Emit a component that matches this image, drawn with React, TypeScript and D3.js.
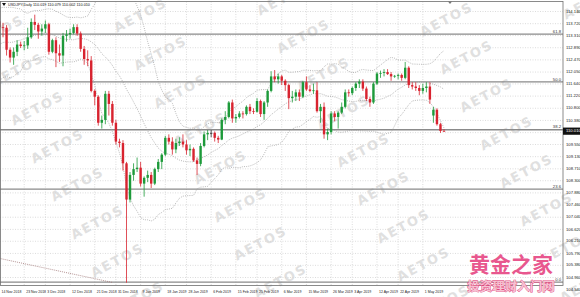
import React from 'react';
import * as d3 from 'd3';

// ---------- DATA ----------
const dates = [
  '2018-11-14','2018-11-15','2018-11-16','2018-11-19','2018-11-20','2018-11-21','2018-11-22','2018-11-23','2018-11-26','2018-11-27','2018-11-28','2018-11-29','2018-11-30',
  '2018-12-03','2018-12-04','2018-12-05','2018-12-06','2018-12-07','2018-12-10','2018-12-11','2018-12-12','2018-12-13','2018-12-14','2018-12-17','2018-12-18','2018-12-19','2018-12-20','2018-12-21','2018-12-24','2018-12-25','2018-12-26','2018-12-27','2018-12-28','2018-12-31',
  '2019-01-01','2019-01-02','2019-01-03','2019-01-04','2019-01-07','2019-01-08','2019-01-09','2019-01-10','2019-01-11','2019-01-14','2019-01-15','2019-01-16','2019-01-17','2019-01-18','2019-01-21','2019-01-22','2019-01-23','2019-01-24','2019-01-25','2019-01-28','2019-01-29','2019-01-30','2019-01-31',
  '2019-02-01','2019-02-04','2019-02-05','2019-02-06','2019-02-07','2019-02-08','2019-02-11','2019-02-12','2019-02-13','2019-02-14','2019-02-15','2019-02-18','2019-02-19','2019-02-20','2019-02-21','2019-02-22','2019-02-25','2019-02-26','2019-02-27','2019-02-28',
  '2019-03-01','2019-03-04','2019-03-05','2019-03-06','2019-03-07','2019-03-08','2019-03-11','2019-03-12','2019-03-13','2019-03-14','2019-03-15','2019-03-18','2019-03-19','2019-03-20','2019-03-21','2019-03-22','2019-03-25','2019-03-26','2019-03-27','2019-03-28','2019-03-29',
  '2019-04-01','2019-04-02','2019-04-03','2019-04-04','2019-04-05','2019-04-08','2019-04-09','2019-04-10','2019-04-11','2019-04-12','2019-04-15','2019-04-16','2019-04-17','2019-04-18','2019-04-19','2019-04-22','2019-04-23','2019-04-24','2019-04-25','2019-04-26','2019-04-29','2019-04-30',
  '2019-05-01','2019-05-02','2019-05-03','2019-05-06','2019-05-07','2019-05-08','2019-05-09',
];

const opens = [
  113.80,113.60,113.58,112.82,112.55,112.75,113.00,112.95,112.97,113.25,113.78,113.68,113.45,
  113.55,113.70,112.75,113.15,112.70,112.62,113.30,113.35,113.40,113.60,113.38,112.85,112.50,112.45,111.40,111.20,110.30,110.40,111.30,110.95,110.30,
  109.65,109.60,108.90,107.65,108.50,108.70,108.75,108.20,108.40,108.50,108.20,108.70,108.95,109.20,109.78,109.65,109.38,109.60,109.65,109.55,109.35,109.40,109.00,
  108.88,109.50,109.90,109.95,109.95,109.78,109.72,110.40,110.50,111.00,110.45,110.50,110.62,110.60,110.85,110.70,110.68,111.05,110.60,111.00,
  111.40,111.90,111.80,111.90,111.75,111.60,111.15,111.20,111.35,111.20,111.70,111.45,111.40,111.42,110.70,110.85,109.90,109.98,110.62,110.50,110.65,
  110.85,111.35,111.32,111.50,111.65,111.72,111.48,111.12,111.00,111.65,112.00,112.02,112.05,111.98,111.90,111.92,111.95,111.85,112.20,111.60,111.55,111.50,
  111.40,111.50,111.55,110.55,110.75,110.25,110.019,
];
const highs = [
  113.87,113.75,113.67,112.90,112.90,113.15,113.10,113.12,113.58,113.90,114.03,113.75,113.70,
  113.83,113.75,113.20,113.25,113.00,113.40,113.50,113.55,113.70,113.70,113.45,112.95,112.80,112.60,111.45,111.25,110.55,111.40,111.40,111.05,110.40,
  109.75,109.70,108.95,108.60,108.90,109.10,108.95,108.45,108.65,108.60,108.75,109.05,109.25,109.85,109.90,109.80,109.75,109.80,109.90,109.70,109.55,109.45,109.10,
  109.60,110.00,110.05,110.05,110.00,109.85,110.45,110.70,111.05,111.10,110.60,110.70,110.70,110.90,110.95,110.80,111.15,111.10,111.05,111.45,
  112.08,112.12,112.00,111.95,111.80,111.65,111.40,111.45,111.45,111.75,111.90,111.60,111.65,111.70,110.95,111.00,110.10,110.70,110.70,110.70,111.00,
  111.45,111.45,111.55,111.70,111.80,111.80,111.55,111.20,111.70,112.05,112.10,112.15,112.15,112.05,111.95,112.00,112.00,112.40,112.25,111.70,111.70,111.60,
  111.65,111.70,111.70,110.85,110.80,110.30,110.079,
];
const lows = [
  113.18,113.25,112.62,112.38,112.30,112.60,112.88,112.80,112.85,113.20,113.50,113.20,113.30,
  113.40,112.65,112.70,112.22,112.40,112.25,113.10,113.20,113.35,113.30,112.75,112.30,112.25,111.35,110.90,110.20,110.10,110.25,110.55,110.20,109.55,
  109.45,108.65,104.78,107.55,108.30,108.60,108.10,107.75,108.25,108.05,108.15,108.60,108.70,109.15,109.55,109.20,109.25,109.50,109.45,109.20,109.15,108.95,108.50,
  108.80,109.45,109.70,109.80,109.65,109.60,109.70,110.25,110.45,110.30,110.30,110.45,110.45,110.55,110.60,110.60,110.65,110.50,110.40,110.85,
  111.35,111.70,111.65,111.60,111.40,110.77,111.00,111.05,111.05,111.15,111.40,111.35,111.30,110.65,110.30,109.75,109.70,109.90,110.35,110.10,110.60,
  110.80,111.20,111.25,111.40,111.50,111.40,111.05,110.85,110.95,111.60,111.85,111.90,111.95,111.75,111.85,111.80,111.75,111.80,111.50,111.45,111.40,111.25,
  111.30,111.35,110.95,110.30,110.20,109.95,110.002,
];
const closes = [
  113.60,113.58,112.82,112.55,112.75,113.00,112.95,112.97,113.25,113.78,113.68,113.45,113.55,
  113.70,112.75,113.15,112.70,112.62,113.30,113.35,113.40,113.60,113.38,112.85,112.50,112.45,111.40,111.20,110.30,110.40,111.30,110.95,110.30,109.65,
  109.60,108.90,107.65,108.50,108.70,108.75,108.20,108.40,108.50,108.20,108.70,108.95,109.20,109.78,109.65,109.38,109.60,109.65,109.55,109.35,109.40,109.00,108.88,
  109.50,109.90,109.95,109.95,109.78,109.72,110.40,110.50,111.00,110.45,110.50,110.62,110.60,110.85,110.70,110.68,111.05,110.60,111.00,111.40,
  111.90,111.80,111.90,111.75,111.60,111.15,111.20,111.35,111.20,111.70,111.45,111.40,111.42,110.70,110.85,109.90,109.98,110.62,110.50,110.65,110.85,
  111.35,111.32,111.50,111.65,111.72,111.48,111.12,111.00,111.65,112.00,112.02,112.05,111.98,111.90,111.92,111.95,111.85,112.20,111.60,111.55,111.50,111.40,
  111.50,111.55,111.10,110.75,110.25,110.02,110.010,
];
// closes of the 20 sessions before the first visible bar (Bollinger warm-up only)
const priorCloses = [112.66,112.18,112.54,112.83,112.45,112.20,112.42,111.89,112.37,113.06,112.93,112.74,113.20,113.21,113.43,113.55,113.96,113.82,113.85,113.81];

const priceTicks = [114.14,113.72,113.31,112.89,112.47,112.05,111.64,111.22,110.80,110.38,109.55,109.13,108.71,108.30,107.88,107.46,107.04,106.62,106.21,105.79,105.38,104.96,104.54];
const gridPrices = [114.14,113.72,113.31,112.89,112.47,112.05,111.64,111.22,110.80,110.38,109.96,109.55,109.13,108.71,108.30,107.88,107.46,107.04,106.62,106.21,105.79,105.38,104.96];

const labelDates = ['2018-11-14','2018-11-23','2018-12-03','2018-12-12','2018-12-21','2018-12-31','2019-01-09','2019-01-18','2019-01-28','2019-02-06','2019-02-15','2019-02-25','2019-03-06','2019-03-15','2019-03-26','2019-04-03','2019-04-12','2019-04-22','2019-05-01'];
const labelTexts = ['14 Nov 2018','23 Nov 2018','3 Dec 2018','12 Dec 2018','21 Dec 2018','31 Dec 2018','9 Jan 2019','18 Jan 2019','28 Jan 2019','6 Feb 2019','15 Feb 2019','25 Feb 2019','6 Mar 2019','15 Mar 2019','26 Mar 2019','3 Apr 2019','12 Apr 2019','22 Apr 2019','1 May 2019'];

const fibNames = ['61.8','50.0','38.2','23.6','0.0'];
const fibPrices = [113.36, 111.71, 110.06, 108.01, 104.80];

const trendDates = ['2018-11-14','2018-12-28'];
const trendPrices = [105.62, 104.79];

const headerText = 'USDJPY,Daily  110.019 110.079 110.002 110.010';
const lastPriceText = '110.010';
const lastPrice = 110.010;
const watermark = 'AETOS';
const brandTitle = '黄金之家';
const brandSub = '投资理财入门网';

// ---------- LAYOUT ----------
const W = 580, H = 297;
const PL = 0, PR = 563, PT = 1.5, PB = 285.5;
const FONT = '"Liberation Sans", Arial, sans-serif';

export default function App() {
  const n = dates.length;
  const x = d3.scaleLinear().domain([0, n - 1]).range([-0.5, 444]);
  const y = d3.scaleLinear().domain([104.96, 114.14]).range([277.5, 11.5]);
  const idxOf = (d: string) => dates.indexOf(d);

  // Bollinger bands (20, 2) from the close series
  const all = [...priorCloses, ...closes];
  const off = priorCloses.length;
  const bands = closes.map((_, i) => {
    const win = all.slice(i + off - 19, i + off + 1);
    const m = d3.mean(win) as number;
    const sd = Math.sqrt(d3.mean(win.map(v => (v - m) * (v - m))) as number);
    return { i, mid: m, up: m + 2 * sd, lo: m - 2 * sd };
  });
  const lineOf = (k: 'mid' | 'up' | 'lo') =>
    d3.line<any>().x(d => x(d.i)).y(d => y(d[k]))(bands) || '';

  const bw = 2.4;
  const bull = '#1d9a3a';
  const bear = '#d8232f';

  // watermark lattice
  const marks: { cx: number; cy: number }[] = [];
  for (let a = -4; a <= 4; a++) {
    for (let b = -6; b <= 9; b++) {
      const cx = 447 + b * 20 + a * 143;
      const cy = 20 + b * 38 - a * 17;
      if (cx > -30 && cx < 600 && cy > -20 && cy < 315) marks.push({ cx, cy });
    }
  }

  const trendPath = d3.line<number>()
    .x((_, k) => x(idxOf(trendDates[k])))
    .y(p => y(p))(trendPrices) || '';

  return (
    <svg width={W} height={H} style={{ position: 'absolute', left: 0, top: 0, background: '#fff' }}
      fontFamily={FONT}>
      <defs>
        <clipPath id="plot"><rect x={PL} y={PT} width={PR - PL} height={PB - PT} /></clipPath>
        <clipPath id="page"><rect x={0} y={0} width={W} height={H} /></clipPath>
      </defs>
      <rect x={0} y={0} width={W} height={H} fill="#fff" />

      {/* grid */}
      <g clipPath="url(#plot)" stroke="#c4c4c4" strokeWidth={0.6} strokeDasharray="1,1.5">
        {gridPrices.map((p, k) => (
          <line key={'h' + k} x1={PL} x2={PR} y1={y(p)} y2={y(p)} />
        ))}
        {labelDates.map((d, k) => (
          <line key={'v' + k} x1={x(idxOf(d))} x2={x(idxOf(d))} y1={PT} y2={PB} />
        ))}
      </g>

      {/* watermark */}
      <g fill="#d6d6d6" fontWeight="bold" fontSize={13} letterSpacing={2} textAnchor="middle"
        fontFamily='"DejaVu Sans", sans-serif' opacity={0.75} clipPath="url(#page)">
        {marks.map((m, k) => (
          <text key={k} x={m.cx} y={m.cy} transform={`rotate(-28 ${m.cx} ${m.cy})`} dominantBaseline="middle">{watermark}</text>
        ))}
      </g>

      {/* fibonacci levels */}
      <g>
        {fibPrices.map((p, k) => (
          <g key={'f' + k}>
            <line x1={PL} x2={PR} y1={y(p)} y2={y(p)} stroke="#8a8a8a" strokeWidth={1.4} />
            <text x={PR - 2} y={y(p) - 1.3} fontSize={4.2} textAnchor="end" fill="#333">{fibNames[k]}</text>
          </g>
        ))}
      </g>

      <g clipPath="url(#plot)">
        {/* bollinger */}
        <g fill="none" stroke="#9a9a9a" strokeWidth={0.7} strokeDasharray="1,1.2">
          <path d={lineOf('up')} />
          <path d={lineOf('mid')} />
          <path d={lineOf('lo')} />
        </g>
        {/* trend line */}
        <path d={trendPath} fill="none" stroke="#a27a7a" strokeWidth={0.8} strokeDasharray="1,1" />

        {/* candles */}
        {dates.map((d, i) => {
          const o = opens[i], c = closes[i];
          const col = c > o ? bull : c < o ? bear : '#333';
          const cx = x(i);
          const top = y(Math.max(o, c));
          const bot = y(Math.min(o, c));
          return (
            <g key={d}>
              <line x1={cx} x2={cx} y1={y(highs[i])} y2={y(lows[i])} stroke={col} strokeWidth={0.8} />
              <rect x={cx - bw / 2} y={top} width={bw} height={Math.max(0.8, bot - top)} fill={col} />
            </g>
          );
        })}
      </g>

      {/* frame */}
      <rect x={PL + 0.5} y={PT} width={PR - PL - 0.5} height={PB - PT} fill="none" stroke="#6e6e6e" strokeWidth={0.8} />
      <path d={`M448,${PT} L452,${PT} L450,${PT + 2.5} Z`} fill="#777" />

      {/* price axis */}
      <g fontSize={4.2} fill="#222">
        {priceTicks.map((p, k) => (
          <text key={'t' + k} x={PR + 3} y={y(p)} dominantBaseline="middle">{p.toFixed(3)}</text>
        ))}
      </g>
      <rect x={PR} y={y(lastPrice) - 3.6} width={W - PR} height={7.2} fill="#111" />
      <text x={PR + 3} y={y(lastPrice)} fontSize={4.2} fill="#fff" dominantBaseline="middle">{lastPriceText}</text>

      {/* time axis */}
      <g fontSize={3.5} fill="#222">
        {labelDates.map((d, k) => (
          <text key={'d' + k} x={x(idxOf(d)) + 2} y={292.5} dominantBaseline="middle">{labelTexts[k]}</text>
        ))}
      </g>

      {/* header */}
      <path d="M2,3 L6,3 L4,6 Z" fill="#111" />
      <text x={8} y={5} fontSize={3.8} fill="#111" dominantBaseline="middle">{headerText}</text>

      {/* brand watermark */}
      <text x={511} y={272} fontSize={21} fontWeight="bold" textAnchor="middle"
        fontFamily='"Noto Sans CJK SC", sans-serif' fill="#e8578e" stroke="#fff" strokeWidth={1.2}
        paintOrder="stroke">{brandTitle}</text>
      <text x={511} y={291} fontSize={12.5} fontWeight="bold" textAnchor="middle"
        fontFamily='"Noto Sans CJK SC", sans-serif' fill="#f6c1d2" stroke="#e0457b" strokeWidth={0.8}
        paintOrder="stroke">{brandSub}</text>
    </svg>
  );
}
